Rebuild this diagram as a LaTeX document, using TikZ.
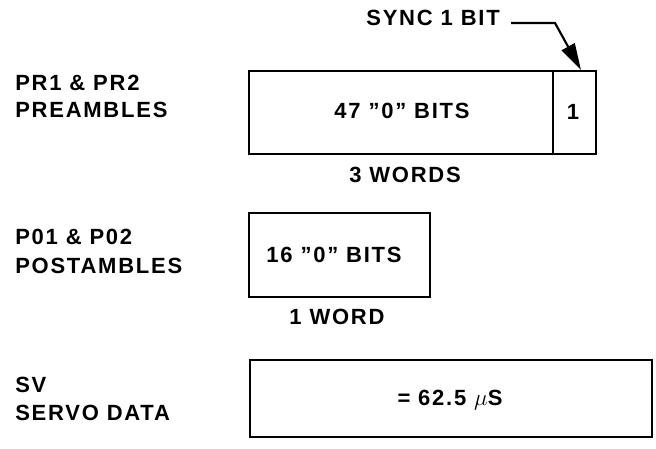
\documentclass[tikz,border=0pt]{standalone}
\usepackage{fontspec}
\setmainfont{Liberation Sans}[LetterSpace=8]
\usetikzlibrary{arrows.meta}
\begin{document}
\begin{tikzpicture}[x=0.75pt,y=-0.75pt,
  lbl/.style={font=\bfseries\fontsize{16.5}{20}\selectfont, inner sep=0pt},
  ltext/.style={lbl, anchor=west, align=left},
  boxline/.style={line width=2.2pt},
]
\useasboundingbox (0,0) rectangle (656,449);
% row labels
\node[ltext] (l1a) at (15,83) {PR1 \& PR2};
\node[ltext] (l1b) at (15,110) {PREAMBLES};
\node[ltext] (l2a) at (15,237) {P01 \& P02};
\node[ltext] (l2b) at (15,266) {POSTAMBLES};
\node[ltext] (l3a) at (15,385) {SV};
\node[ltext] (l3b) at (15,413) {SERVO DATA};
% box 1
\draw[boxline] (249,71) rectangle (596,154);
\draw[line width=1.8pt] (553,71) -- (553,154);
\coordinate (b1top) at (581,70);
\node[lbl] (t1) at (402,111) {47 ''0'' BITS};
\node[lbl] (t2) at (573,112) {1};
\node[lbl] (t3) at (405,175) {3 WORDS};
% sync label
\node[lbl, anchor=east] (sync) at (500,18) {SYNC 1 BIT};
\coordinate (s1) at (511,23);
\coordinate (s2) at (555,23);
\draw[line width=1.6pt, -{Triangle[length=20pt,width=11pt]}] (s1) -- (s2) -- (b1top);
% box 2
\draw[boxline] (249,213) rectangle (430,297);
\node[lbl] (t4) at (334,255) {16 ''0'' BITS};
\node[lbl] (t5) at (337,317) {1 WORD};
% box 3
\draw[boxline] (250,360) rectangle (652,437);
\node[lbl] (t6) at (450,400) {= 62.5 $\mu$S};
\end{tikzpicture}
\end{document}
